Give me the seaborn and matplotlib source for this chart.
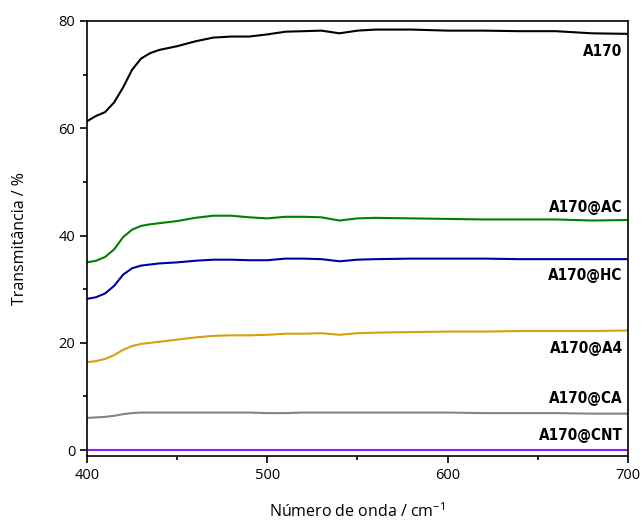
import matplotlib
matplotlib.use("Agg")
import matplotlib.pyplot as plt
import numpy as np
import pandas as pd
import seaborn as sns
from matplotlib.ticker import MultipleLocator

sns.set_style("ticks")
plt.rcParams["font.family"] = ["Open Sans", "DejaVu Sans"]
plt.rcParams["mathtext.default"] = "regular"
plt.rcParams["text.color"] = "black"
plt.rcParams["axes.labelcolor"] = "black"
plt.rcParams["xtick.color"] = "black"
plt.rcParams["ytick.color"] = "black"

# Wavenumber grid (cm-1)
wavenumber = [400, 405, 410, 415, 420, 425, 430, 435, 440, 450, 460, 470, 480, 490,
              500, 510, 520, 530, 540, 550, 560, 580, 600, 620, 640, 660, 680, 700]

a170 = [61.3, 62.3, 63.0, 64.8, 67.6, 70.9, 73.0, 74.0, 74.6, 75.3, 76.2, 76.9, 77.1, 77.1,
        77.5, 78.0, 78.1, 78.2, 77.7, 78.2, 78.4, 78.4, 78.2, 78.2, 78.1, 78.1, 77.7, 77.6]
a170_ac = [35.0, 35.3, 36.0, 37.4, 39.7, 41.1, 41.8, 42.1, 42.3, 42.7, 43.3, 43.7, 43.7, 43.4,
           43.2, 43.5, 43.5, 43.4, 42.8, 43.2, 43.3, 43.2, 43.1, 43.0, 43.0, 43.0, 42.8, 42.9]
a170_hc = [28.2, 28.5, 29.2, 30.6, 32.7, 33.9, 34.4, 34.6, 34.8, 35.0, 35.3, 35.5, 35.5, 35.4,
           35.4, 35.7, 35.7, 35.6, 35.2, 35.5, 35.6, 35.7, 35.7, 35.7, 35.6, 35.6, 35.6, 35.6]
a170_a4 = [16.4, 16.6, 17.0, 17.7, 18.7, 19.4, 19.8, 20.0, 20.2, 20.6, 21.0, 21.3, 21.4, 21.4,
           21.5, 21.7, 21.7, 21.8, 21.5, 21.8, 21.9, 22.0, 22.1, 22.1, 22.2, 22.2, 22.2, 22.3]
a170_ca = [6.0, 6.1, 6.2, 6.4, 6.7, 6.9, 7.0, 7.0, 7.0, 7.0, 7.0, 7.0, 7.0, 7.0,
           6.9, 6.9, 7.0, 7.0, 7.0, 7.0, 7.0, 7.0, 7.0, 6.9, 6.9, 6.9, 6.8, 6.8]
a170_cnt = [0.05] * len(wavenumber)

names = ["A170", "A170@AC", "A170@HC", "A170@A4", "A170@CA", "A170@CNT"]
series = [a170, a170_ac, a170_hc, a170_a4, a170_ca, a170_cnt]
colors = ["#000000", "#008000", "#0000a0", "#d4a00c", "#858585", "#8c1aff"]
# label heights (data units) for the text next to each curve
label_y = [74.3, 45.3, 32.5, 19.0, 9.7, 2.8]

data = pd.concat([
    pd.DataFrame({"Wavenumber": wavenumber, "T": vals, "Sample": name})
    for name, vals in zip(names, series)
])

fig = plt.figure(figsize=(6.41, 5.22), dpi=100)
ax = fig.add_axes([0.1357, 0.1264, 0.8440, 0.8334])

sns.lineplot(
    x="Wavenumber", y="T", hue="Sample", data=data,
    palette=colors, linewidth=1.5, ax=ax, legend=False
)

for name, y in zip(names, label_y):
    ax.text(697, y, name, ha="right", va="center", fontsize=11,
            fontweight="bold", fontstretch="condensed", color="black",
            family=["DejaVu Sans"])

ax.set_xlim(400, 700)
ax.set_ylim(-1.1, 80)
ax.xaxis.set_major_locator(MultipleLocator(100))
ax.xaxis.set_minor_locator(MultipleLocator(50))
ax.yaxis.set_major_locator(MultipleLocator(20))
ax.yaxis.set_minor_locator(MultipleLocator(10))
ax.tick_params(which="major", length=5, width=1.2, labelsize=10.5)
ax.tick_params(which="minor", length=3, width=1.2)
for s in ax.spines.values():
    s.set_linewidth(1.2)
    s.set_color("black")

ax.set_xlabel("Número de onda / cm$^{-1}$", fontsize=11.5, labelpad=14)
ax.set_ylabel("Transmitância / %", fontsize=11.5, labelpad=22)

fig.savefig("out.png", dpi=100)
